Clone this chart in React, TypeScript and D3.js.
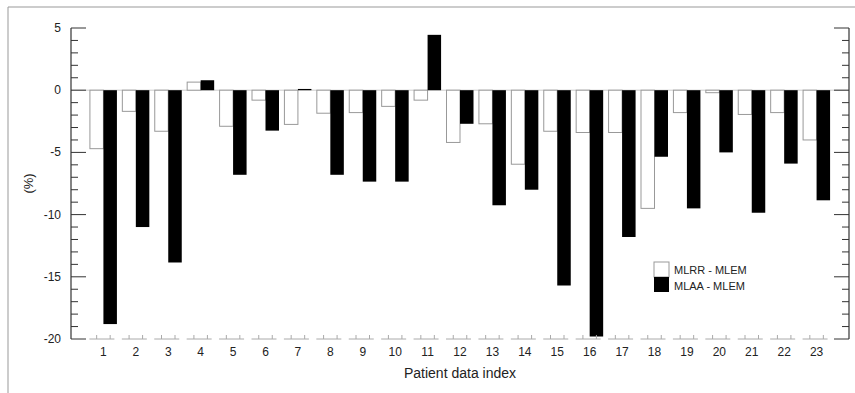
import { range, scaleBand, scaleLinear, scalePoint } from 'd3'

const patients = [
  '1', '2', '3', '4', '5', '6', '7', '8', '9', '10', '11', '12',
  '13', '14', '15', '16', '17', '18', '19', '20', '21', '22', '23',
]
const mlrrMinusMlem = [
  -4.7, -1.7, -3.3, 0.65, -2.9, -0.8, -2.75, -1.85, -1.8, -1.3, -0.8, -4.2,
  -2.7, -5.95, -3.3, -3.4, -3.4, -9.5, -1.8, -0.2, -1.95, -1.8, -4.0,
]
const mlaaMinusMlem = [
  -18.8, -11.0, -13.85, 0.8, -6.8, -3.25, 0.1, -6.8, -7.35, -7.35, 4.45, -2.7,
  -9.25, -8.0, -15.7, -19.8, -11.8, -5.35, -9.5, -5.0, -9.85, -5.9, -8.85,
]
const seriesNames = ['MLRR - MLEM', 'MLAA - MLEM']
const yTickLabels = [5, 0, -5, -10, -15, -20]

const W = 855
const H = 393
const left = 71
const right = 849
const font = '"Liberation Sans", Arial, sans-serif'

export default function App() {
  const y = scaleLinear().domain([-20, 5]).range([339, 28])
  const x = scalePoint<string>().domain(patients).range([left, right]).padding(1)
  const sub = scaleBand<string>().domain(seriesNames).range([-13.5, 13.5]).paddingInner(0)
  const minor = range(-20, 6, 1)

  const axis = (x0: number, dir: number) => (
    <g>
      <line x1={x0} x2={x0} y1={y(5)} y2={y(-20)} stroke="#333" strokeWidth={1.2} />
      {minor.map((t) => {
        const major = t % 5 === 0
        return (
          <line
            key={t}
            x1={x0}
            x2={x0 + dir * (major ? 15 : 7)}
            y1={y(t)}
            y2={y(t)}
            stroke="#333"
            strokeWidth={1}
          />
        )
      })}
    </g>
  )

  return (
    <svg
      width={W}
      height={H}
      style={{ position: 'absolute', left: 0, top: 0, background: '#fff' }}
      fontFamily={font}
    >
      <line x1={8} x2={W} y1={7} y2={7} stroke="#999" />
      <line x1={8} x2={8} y1={7} y2={H} stroke="#999" />

      <line x1={left} x2={right} y1={y(0)} y2={y(0)} stroke="#ccc" />

      {patients.map((p, i) => {
        const c = x(p) ?? 0
        const v1 = mlrrMinusMlem[i]
        const v2 = mlaaMinusMlem[i]
        const x1 = c + (sub(seriesNames[0]) ?? 0)
        const x2 = c + (sub(seriesNames[1]) ?? 0)
        const bw = sub.bandwidth()
        return (
          <g key={p}>
            <rect
              x={x1}
              y={Math.min(y(v1), y(0))}
              width={bw}
              height={Math.abs(y(v1) - y(0))}
              fill="#fff"
              stroke="#999"
              strokeWidth={1}
            />
            <rect
              x={x2}
              y={Math.min(y(v2), y(0))}
              width={bw}
              height={Math.max(Math.abs(y(v2) - y(0)), 1)}
              fill="#000"
            />
            <line x1={c - 14} x2={c + 11} y1={y(-20)} y2={y(-20)} stroke="#aaa" />
            <line x1={x1 + bw / 2} x2={x1 + bw / 2} y1={y(-20)} y2={y(-20) - 4} stroke="#aaa" />
            <line x1={x2 + bw / 2} x2={x2 + bw / 2} y1={y(-20)} y2={y(-20) - 4} stroke="#aaa" />
            <text x={c} y={356} textAnchor="middle" fontSize={12} fill="#222">
              {p}
            </text>
          </g>
        )
      })}

      {axis(left, 1)}
      {axis(right, -1)}

      {yTickLabels.map((t) => (
        <text key={t} x={61} y={y(t) + 4} textAnchor="end" fontSize={12} fill="#222">
          {t}
        </text>
      ))}

      <text
        transform={`translate(33,${(y(5) + y(-20)) / 2}) rotate(-90)`}
        textAnchor="middle"
        fontSize={13}
        fill="#222"
      >
        (%)
      </text>
      <text x={(left + right) / 2} y={378} textAnchor="middle" fontSize={14} fill="#222">
        Patient data index
      </text>

      <g transform="translate(654,262)">
        <rect x={0} y={0} width={15} height={15} fill="#fff" stroke="#999" />
        <rect x={0} y={15} width={15} height={15} fill="#000" />
        <text x={20} y={12} fontSize={11} fill="#222">
          {seriesNames[0]}
        </text>
        <text x={20} y={28} fontSize={11} fill="#222">
          {seriesNames[1]}
        </text>
      </g>
    </svg>
  )
}
